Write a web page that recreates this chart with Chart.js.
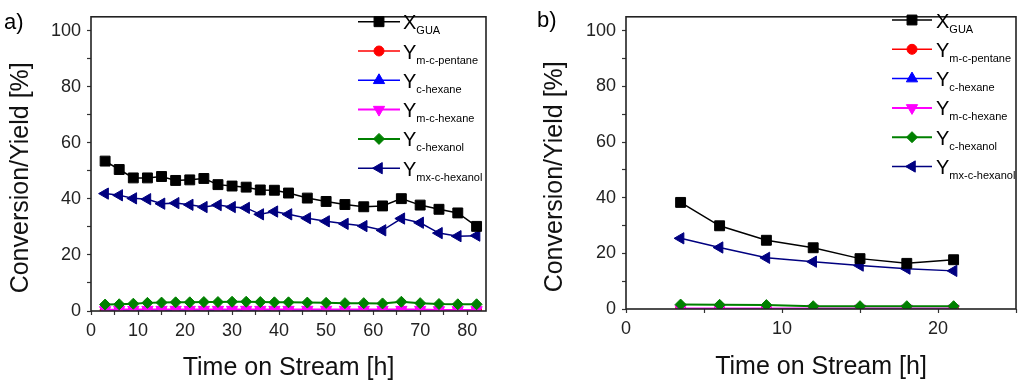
<!DOCTYPE html>
<html>
<head>
<meta charset="utf-8">
<script src="https://cdn.jsdelivr.net/npm/chart.js@4.4.1/dist/chart.umd.min.js"></script>
<style>
html, body { margin: 0; padding: 0; background: #fff; }
.panel { position: absolute; top: 0; width: 512px; height: 388px; }
</style>
</head>
<body>
<div class="panel" style="left:0"><canvas id="chartA"></canvas></div>
<div class="panel" style="left:512px"><canvas id="chartB"></canvas></div>
<script>
'use strict';
var FONT = "'Liberation Sans', Arial, sans-serif";

// legend names: main letter + subscript
var seriesMain = ['X', 'Y', 'Y', 'Y', 'Y', 'Y'];
var seriesSub  = ['GUA', 'm-c-pentane', 'c-hexane', 'm-c-hexane', 'c-hexanol', 'mx-c-hexanol'];

// ---- panel a) ----
var timeA = [3, 6, 9, 12, 15, 18, 21, 24, 27, 30, 33, 36, 39, 42, 46, 50, 54, 58, 62, 66, 70, 74, 78, 82];
var xGuaA        = [53.5, 50.5, 47.5, 47.5, 48.0, 46.6, 46.8, 47.3, 45.1, 44.6, 44.2, 43.2, 43.1, 42.1, 40.3, 39.1, 38.0, 37.2, 37.5, 40.1, 37.8, 36.3, 35.0, 30.2];
var yMcPentaneA  = [0.2, 0.2, 0.2, 0.2, 0.2, 0.2, 0.2, 0.2, 0.2, 0.2, 0.2, 0.2, 0.2, 0.2, 0.2, 0.2, 0.2, 0.2, 0.2, 0.2, 0.2, 0.2, 0.2, 0.2];
var yChexaneA    = [0.1, 0.1, 0.1, 0.1, 0.1, 0.1, 0.1, 0.1, 0.1, 0.1, 0.1, 0.1, 0.1, 0.1, 0.1, 0.1, 0.1, 0.1, 0.1, 0.1, 0.1, 0.1, 0.1, 0.1];
var yMcHexaneA   = [0.4, 0.5, 0.5, 0.5, 0.5, 0.5, 0.5, 0.5, 0.5, 0.5, 0.5, 0.5, 0.5, 0.5, 0.5, 0.5, 0.5, 0.5, 0.5, 0.5, 0.5, 0.4, 0.4, 0.4];
var yChexanolA   = [2.3, 2.4, 2.6, 2.9, 3.0, 3.1, 3.1, 3.2, 3.2, 3.3, 3.3, 3.2, 3.1, 3.1, 3.0, 2.9, 2.8, 2.8, 2.7, 3.3, 2.8, 2.5, 2.4, 2.4];
var yMxChexanolA = [41.9, 41.3, 40.2, 39.9, 38.3, 38.5, 37.9, 37.1, 37.8, 37.1, 36.8, 34.5, 35.5, 34.5, 33.1, 32.0, 31.1, 30.3, 28.8, 33.0, 31.5, 27.8, 26.7, 26.9];

// ---- panel b) ----
var timeB = [3.5, 6, 9, 12, 15, 18, 21];
var xGuaB        = [38.3, 29.9, 24.7, 22.0, 18.1, 16.4, 17.7];
var yMcPentaneB  = [0.1, 0.1, 0.1, 0.1, 0.1, 0.1, 0.1];
var yChexaneB    = [0.1, 0.1, 0.1, 0.1, 0.1, 0.1, 0.1];
var yMcHexaneB   = [0.2, 0.2, 0.2, 0.2, 0.2, 0.2, 0.2];
var yChexanolB   = [1.6, 1.5, 1.4, 1.0, 1.0, 1.0, 1.0];
var yMxChexanolB = [25.4, 22.1, 18.4, 17.0, 15.6, 14.5, 13.7];

// series styles
var sColor  = ['#000000', '#ff0000', '#0000ff', '#ff00ff', '#008000', '#000080'];
var sPoint  = ['rect', 'circle', 'triangle', 'triangle', 'rectRot', 'triangle'];
var sRot    = [0, 0, 0, 180, 0, -90];
var sRadius = [7, 5, 6.5, 6.5, 5.5, 6.5];
var sLineW  = [1.5, 1.5, 1.5, 2, 2, 1.5];
var sOrder  = [0, 4, 3, 2, 1, 0];

// legend with subscripts, drawn inside the plot
var subLegend = {
  id: 'subLegend',
  afterDraw: function(chart, args, o) {
    var ctx = chart.ctx;
    ctx.save();
    chart.data.datasets.forEach(function(ds, i) {
      var y = o.y0 + i * o.dy;
      ctx.strokeStyle = ds.borderColor; ctx.lineWidth = ds.borderWidth;
      ctx.beginPath(); ctx.moveTo(o.x1, y); ctx.lineTo(o.x2, y); ctx.stroke();
      ctx.fillStyle = ds.pointBackgroundColor; ctx.lineWidth = 1;
      Chart.helpers.drawPoint(ctx, {pointStyle: ds.pointStyle, rotation: ds.pointRotation, radius: ds.pointRadius, borderWidth: 1}, (o.x1 + o.x2) / 2, y);
      ctx.fillStyle = '#000'; ctx.textAlign = 'left'; ctx.textBaseline = 'alphabetic';
      ctx.font = '20px ' + FONT;
      ctx.fillText(seriesMain[i], o.tx, y + 7.5);
      var w = ctx.measureText(seriesMain[i]).width;
      ctx.font = '11px ' + FONT;
      ctx.fillText(seriesSub[i], o.tx + w, y + 12.5);
    });
    ctx.restore();
  }
};

// box round the plot + panel letter
var frame = {
  id: 'frame',
  afterDatasetsDraw: function(chart, args, o) {
    var ctx = chart.ctx, a = chart.chartArea;
    ctx.save();
    ctx.strokeStyle = '#222'; ctx.lineWidth = 1.6;
    ctx.strokeRect(a.left, a.top, a.right - a.left, a.bottom - a.top);
    ctx.fillStyle = '#000'; ctx.font = '22px ' + FONT; ctx.textAlign = 'left'; ctx.textBaseline = 'alphabetic';
    ctx.fillText(o.label, o.lx, o.ly);
    ctx.restore();
  }
};

function makeChart(id, time, series, cfg) {
  var datasets = series.map(function(vals, i) {
    return {
      label: seriesMain[i] + ' ' + seriesSub[i],
      data: time.map(function(t, k) { return {x: t, y: vals[k]}; }),
      borderColor: sColor[i], backgroundColor: sColor[i], pointBackgroundColor: sColor[i],
      borderWidth: sLineW[i], pointStyle: sPoint[i], pointRotation: sRot[i],
      pointRadius: sRadius[i], pointBorderWidth: 1, tension: 0, order: sOrder[i]
    };
  });
  var tickFont = {family: FONT, size: 18};
  var titleFont = {family: FONT, size: 25};
  return new Chart(document.getElementById(id), {
    type: 'line',
    data: {datasets: datasets},
    options: {
      responsive: true, maintainAspectRatio: false, animation: false,
      layout: {padding: {top: cfg.padTop, right: cfg.padRight, left: 0, bottom: 0}},
      plugins: {
        legend: {display: false}, tooltip: {enabled: false},
        subLegend: cfg.legend,
        frame: {label: cfg.label, lx: cfg.lx, ly: cfg.ly}
      },
      scales: {
        x: {
          type: 'linear', min: 0, max: cfg.xMax,
          afterFit: function(s) { s.height = cfg.xH; },
          border: {display: false},
          grid: {drawOnChartArea: false, tickLength: 4, tickColor: '#333', tickWidth: 1.2},
          ticks: {stepSize: 5, includeBounds: false, autoSkip: false, maxRotation: 0, padding: 5,
                  color: '#222', font: tickFont,
                  callback: function(v) { return (v % 10 === 0 && v <= cfg.xLabelMax) ? v : ''; }},
          title: {display: true, text: 'Time on Stream [h]', color: '#111', font: titleFont, padding: {top: 0, bottom: cfg.xTitlePad}}
        },
        y: {
          min: 0, max: 105,
          afterFit: function(s) { s.width = cfg.yW; },
          border: {display: false},
          grid: {drawOnChartArea: false, tickLength: 4, tickColor: '#333', tickWidth: 1.2},
          ticks: {stepSize: 10, includeBounds: false, padding: 6, color: '#222', font: tickFont,
                  callback: function(v) { return v % 20 === 0 ? v : ''; }},
          title: {display: true, text: 'Conversion/Yield [%]    ', color: '#111', font: titleFont, padding: {top: cfg.yTitlePad, bottom: 0}}
        }
      }
    },
    plugins: [frame, subLegend]
  });
}

makeChart('chartA', timeA, [xGuaA, yMcPentaneA, yChexaneA, yMcHexaneA, yChexanolA, yMxChexanolA], {
  xMax: 84, xLabelMax: 80, yW: 91, xH: 77, padTop: 4, padRight: 26, xTitlePad: 5, yTitlePad: 6,
  label: 'a)', lx: 4, ly: 29,
  legend: {x1: 358, x2: 400, tx: 403, y0: 21.7, dy: 29.3}
});
makeChart('chartB', timeB, [xGuaB, yMcPentaneB, yChexaneB, yMcHexaneB, yChexanolB, yMxChexanolB], {
  xMax: 25, xLabelMax: 20, yW: 114, xH: 79, padTop: 3, padRight: 5, xTitlePad: 6, yTitlePad: 28,
  label: 'b)', lx: 25, ly: 27,
  legend: {x1: 380, x2: 420, tx: 424, y0: 20, dy: 29.3}
});
</script>
</body>
</html>
